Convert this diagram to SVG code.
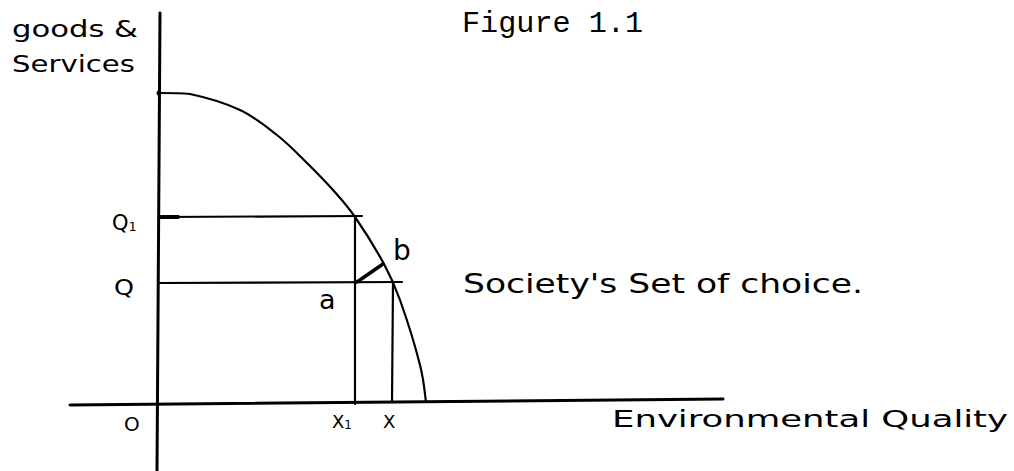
<svg xmlns="http://www.w3.org/2000/svg" width="1014" height="471" viewBox="0 0 1014 471">
<style>
.ln{stroke:#000;fill:none;stroke-linecap:round}
.ax{stroke-width:3}
.gl{stroke-width:2.2}
.t{font-family:"DejaVu Sans","Liberation Sans",sans-serif;fill:#000}
.title{font-family:"Liberation Mono","DejaVu Sans Mono",monospace;fill:#000;font-size:30px}
</style>
<rect width="1014" height="471" fill="#fff"/>
<text class="title" x="462" y="32" textLength="181" lengthAdjust="spacingAndGlyphs">Figure 1.1</text>
<g id="axes">
<line class="ln ax" x1="160" y1="13" x2="157" y2="471"/>
<line class="ln ax" x1="70" y1="405" x2="723" y2="399"/>
</g>
<g id="connectors">
<path class="ln gl" d="M160,93 C170,93 180,93 190,94 C203.3,96.8 225.5,103.2 240,110 C254.5,116.8 265.8,126.2 277,135 C288.2,143.8 297.7,153.8 307,163 C316.3,172.2 325,181 333,190 C341,199 346.5,204.7 355,217 C363.5,229.3 376.5,250.2 384,264 C391.5,277.8 394,283.2 400,300 C406,316.8 415.7,348 420,365 C424.3,382 425,395.8 426,402"/>
<line class="ln gl" x1="159" y1="217" x2="362" y2="216"/>
<line class="ln" stroke-width="4" x1="160" y1="217" x2="178" y2="217"/>
<line class="ln gl" x1="159" y1="283" x2="402" y2="282"/>
<line class="ln gl" x1="355" y1="217" x2="355" y2="404"/>
<line class="ln gl" x1="393" y1="283" x2="392" y2="402"/>
<line class="ln" stroke-width="3.5" x1="357" y1="282" x2="383" y2="264"/>
<circle cx="159" cy="93" r="2.5" fill="#000"/>
</g>
<g id="label-goods">
<text class="t" x="12" y="37" font-size="23" textLength="126" lengthAdjust="spacingAndGlyphs">goods &amp;</text>
<text class="t" x="12" y="72" font-size="23" textLength="123" lengthAdjust="spacingAndGlyphs">Services</text>
</g>
<g id="label-q1"><text class="t" x="112" y="230" font-size="21">Q<tspan font-size="13" dy="1">1</tspan></text></g>
<g id="label-q"><text class="t" x="114" y="295" font-size="21" textLength="20" lengthAdjust="spacingAndGlyphs">Q</text></g>
<g id="label-b"><text class="t" x="393" y="260" font-size="28">b</text></g>
<g id="label-a"><text class="t" x="319" y="309" font-size="27">a</text></g>
<g id="label-o"><text class="t" x="124" y="431" font-size="20">O</text></g>
<g id="label-x1"><text class="t" x="332" y="428" font-size="18">X<tspan font-size="12" dy="1">1</tspan></text></g>
<g id="label-x"><text class="t" x="383" y="428" font-size="18">X</text></g>
<g id="label-society"><text class="t" x="463" y="293" font-size="26" textLength="400" lengthAdjust="spacingAndGlyphs">Society's Set of choice.</text></g>
<g id="label-env"><text class="t" x="612" y="427" font-size="23" textLength="396" lengthAdjust="spacingAndGlyphs">Environmental Quality</text></g>
</svg>
